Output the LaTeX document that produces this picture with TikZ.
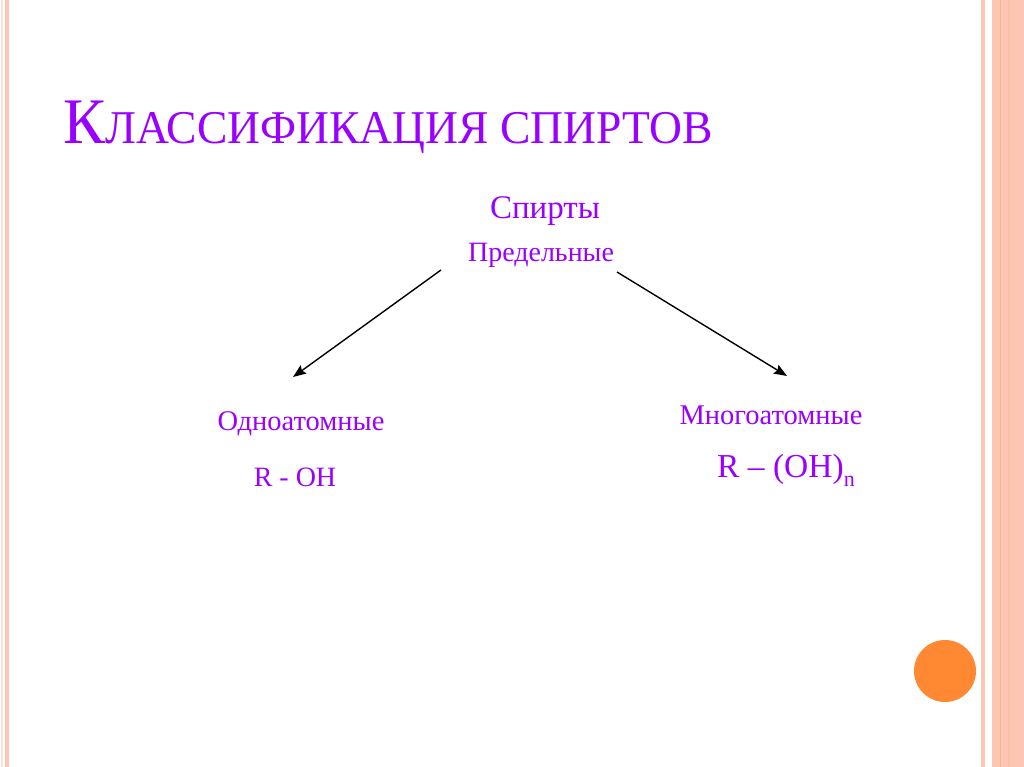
\documentclass[tikz,border=0pt]{standalone}
\usepackage{fontspec}
\setmainfont{Liberation Serif}
\usetikzlibrary{arrows.meta}
\definecolor{vio}{HTML}{9900FF}
\definecolor{stripe}{HTML}{FCC6B2}
\definecolor{stripedark}{HTML}{F0A47A}
\definecolor{dot}{HTML}{FF8833}
\tikzset{
  lbl/.style={inner sep=0pt, text=vio, anchor=center},
  arr/.style={-{Stealth[length=13pt,width=10pt,inset=2pt]}, line width=1.4pt, black}
}
\begin{document}
\begin{tikzpicture}[x=1pt,y=-1pt]
\useasboundingbox (0,0) rectangle (1024,767);
\fill[white] (0,0) rectangle (1024,767);
% left stripes
\fill[stripe!50] (1,0) rectangle (3,767);
\fill[stripe] (5,0) rectangle (9,767);
% right stripes
\fill[stripe] (981,0) rectangle (985,767);
\fill[stripe] (992,0) rectangle (1024,767);
\fill[stripedark!80] (999.5,0) rectangle (1001,767);
\fill[stripe!80!stripedark] (1008,0) rectangle (1010,767);
% circle
\fill[dot] (945,671) circle (31);
% title
\node[lbl, anchor=base west, xscale=0.97] (title) at (63,144)
  {\fontsize{65}{65}\selectfont К\fontsize{47}{47}\selectfont ЛАССИФИКАЦИЯ СПИРТОВ};
\node[lbl] (spirty) at (545,211) {\fontsize{33}{33}\selectfont Спирты};
\node[lbl] (pred) at (541,255) {\fontsize{28}{28}\selectfont Предельные};
\node[lbl] (odno) at (301,424) {\fontsize{28.5}{28.5}\selectfont Одноатомные};
\node[lbl] (roh) at (295,477) {\fontsize{28}{28}\selectfont R - OH};
\node[lbl] (mnogo) at (771,415) {\fontsize{28.5}{28.5}\selectfont Многоатомные};
\node[lbl, anchor=base west] (rohn) at (717,477) {\fontsize{33.5}{33.5}\selectfont R – (OH)\raisebox{-0.27em}{\fontsize{22}{22}\selectfont n}};
\coordinate (la) at (441,270);
\coordinate (lb) at (293,377);
\coordinate (ra) at (617,272);
\coordinate (rb) at (787,376);
\draw[arr] (la) -- (lb);
\draw[arr] (ra) -- (rb);
\end{tikzpicture}
\end{document}
